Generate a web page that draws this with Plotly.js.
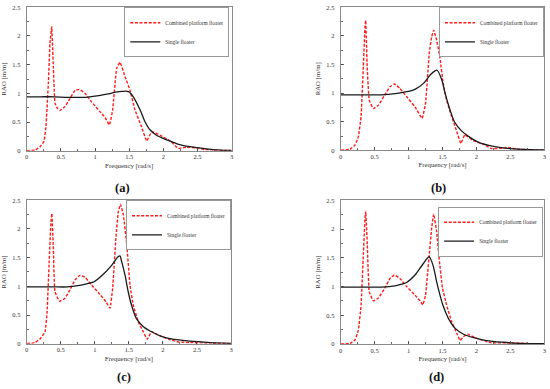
<!DOCTYPE html>
<html>
<head>
<meta charset="utf-8">
<script src="https://cdn.plot.ly/plotly-3.0.1.min.js"></script>
<style>html,body{margin:0;padding:0;background:#fff;}#chart{width:550px;height:389px;}</style>
</head>
<body>
<div id="chart"></div>
<script>
// ---- Data ----
var seriesNames = ["Combined platform floater", "Single floater"];
var panelLabels = ["(a)", "(b)", "(c)", "(d)"];
var xTitle = "Frequency [rad/s]";
var yTitle = "RAO [m/m]";

var freqA_comb = [0,0.12,0.195,0.253,0.282,0.317,0.341,0.366,0.39,0.414,0.448,0.487,0.56,0.634,0.707,0.77,0.853,0.95,1.073,1.146,1.21,1.258,1.317,1.365,1.44,1.51,1.585,1.68,1.756,1.83,1.95,2.1,2.22,2.34,2.49,2.6,2.8,3.0];
var raoA_comb  = [0,0.01,0.07,0.16,0.42,1.17,1.87,2.16,1.47,0.83,0.74,0.70,0.77,0.91,1.05,1.07,1.0,0.85,0.68,0.58,0.45,0.71,1.44,1.54,1.29,1.06,0.71,0.42,0.17,0.33,0.27,0.17,0.04,0.06,0.05,0.02,0.01,0];
var freqA_single = [0,0.2,0.4,0.6,0.8,0.9,1.0,1.1,1.2,1.3,1.4,1.49,1.56,1.66,1.73,1.8,1.9,2.05,2.2,2.39,2.58,2.83,3.0];
var raoA_single  = [0.94,0.94,0.94,0.93,0.93,0.935,0.95,0.97,0.99,1.02,1.035,1.03,0.94,0.71,0.51,0.37,0.27,0.19,0.12,0.07,0.04,0.01,0.005];

var freqB_comb = [0,0.137,0.21,0.26,0.30,0.333,0.358,0.368,0.39,0.42,0.48,0.555,0.65,0.726,0.79,0.874,0.97,1.095,1.2,1.25,1.305,1.34,1.37,1.414,1.463,1.51,1.56,1.635,1.71,1.77,1.83,1.95,2.1,2.22,2.4,2.47,2.6,2.8,3.0];
var raoB_comb  = [0,0.02,0.09,0.24,0.59,1.46,2.16,2.27,1.46,0.88,0.73,0.79,0.97,1.11,1.16,1.08,0.94,0.76,0.56,0.82,1.70,1.98,2.10,1.93,1.61,1.17,0.88,0.59,0.33,0.12,0.27,0.17,0.11,0.03,0.04,0.05,0.02,0.01,0];
var freqB_single = [0,0.2,0.4,0.6,0.8,0.9,1.0,1.1,1.22,1.32,1.39,1.42,1.49,1.54,1.61,1.68,1.78,1.9,2.05,2.25,2.5,2.8,3.0];
var raoB_single  = [0.97,0.97,0.97,0.97,0.99,1.01,1.03,1.07,1.17,1.32,1.39,1.40,1.23,0.99,0.71,0.49,0.34,0.23,0.13,0.07,0.03,0.01,0.005];

var freqC_comb = [0,0.12,0.195,0.27,0.30,0.33,0.357,0.37,0.39,0.415,0.48,0.56,0.636,0.71,0.78,0.856,0.954,1.076,1.165,1.223,1.263,1.31,1.345,1.378,1.42,1.47,1.517,1.565,1.64,1.71,1.77,1.835,1.93,2.08,2.23,2.4,2.7,3.0];
var raoC_comb  = [0,0.02,0.08,0.21,0.56,1.43,2.13,2.27,1.72,0.91,0.74,0.79,0.94,1.11,1.19,1.16,1.02,0.86,0.73,0.62,0.97,1.84,2.30,2.43,2.24,1.72,1.02,0.67,0.38,0.21,0.08,0.21,0.15,0.08,0.03,0.02,0.01,0];
var freqC_single = [0,0.2,0.4,0.6,0.8,0.9,0.99,1.125,1.25,1.345,1.37,1.395,1.443,1.49,1.54,1.61,1.71,1.86,2.0,2.2,2.45,2.7,3.0];
var raoC_single  = [0.99,0.99,0.99,0.99,1.02,1.05,1.08,1.21,1.37,1.52,1.53,1.43,1.20,0.91,0.67,0.44,0.30,0.19,0.12,0.07,0.04,0.02,0.005];

var freqD_comb = [0,0.137,0.21,0.26,0.30,0.333,0.358,0.368,0.392,0.42,0.48,0.555,0.65,0.726,0.79,0.874,0.97,1.095,1.17,1.21,1.25,1.30,1.34,1.37,1.414,1.45,1.50,1.56,1.635,1.71,1.76,1.81,1.87,1.98,2.13,2.22,2.45,2.7,3.0];
var raoD_comb  = [0,0.01,0.07,0.24,0.68,1.55,2.19,2.31,1.72,0.91,0.75,0.80,0.97,1.14,1.20,1.14,1.0,0.85,0.75,0.68,0.85,1.49,2.01,2.26,1.95,1.49,0.97,0.68,0.39,0.19,0.06,0.13,0.17,0.11,0.05,0.02,0.02,0.01,0];
var freqD_single = [0,0.2,0.4,0.6,0.8,0.9,0.97,1.095,1.2,1.30,1.316,1.365,1.414,1.463,1.51,1.585,1.68,1.81,1.96,2.15,2.4,2.65,3.0];
var raoD_single  = [0.99,0.99,0.99,0.99,1.01,1.04,1.07,1.20,1.37,1.52,1.50,1.35,1.08,0.85,0.66,0.45,0.28,0.17,0.11,0.06,0.03,0.01,0.005];

var xTickVals = [0,0.5,1,1.5,2,2.5,3];
var xTickText = ["0","0.5","1","1.5","2","2.5","3"];
var yTickVals = [0,0.5,1,1.5,2,2.5];
var yTickText = ["0","0.5","1","1.5","2","2.5"];

// ---- Build ----
var FONT = "Liberation Serif, Times New Roman, serif";
var panels = [
  {comb:[freqA_comb, raoA_comb], single:[freqA_single, raoA_single]},
  {comb:[freqB_comb, raoB_comb], single:[freqB_single, raoB_single]},
  {comb:[freqC_comb, raoC_comb], single:[freqC_single, raoC_single]},
  {comb:[freqD_comb, raoD_comb], single:[freqD_single, raoD_single]}
];
var xDomains = [[0.0485,0.4213],[0.6195,0.9896],[0.0485,0.42],[0.6195,0.9896]];
var yDomains = [[0.6126,0.9812],[0.6136,0.9812],[0.1165,0.4851],[0.1157,0.4851]];
var legendPos = [
  {x:0.4169, y:0.9812},
  {x:0.989, y:0.9812},
  {x:0.42, y:0.4851},
  {x:0.9875, y:0.4686}
];
var labelPos = [[0.2236,0.5167],[0.7964,0.5167],[0.2255,0.0308],[0.7945,0.0308]];

var traces = [];
var layout = {
  width:550, height:389,
  margin:{l:0,r:0,t:0,b:0},
  paper_bgcolor:"#fff", plot_bgcolor:"#fff",
  font:{family:FONT, color:"#222"},
  annotations:[]
};

panels.forEach(function(p, i){
  var n = i===0 ? "" : String(i+1);
  var lg = i===0 ? "legend" : "legend"+(i+1);
  traces.push({
    x:p.comb[0], y:p.comb[1], type:"scatter", mode:"lines",
    name:seriesNames[0], xaxis:"x"+n, yaxis:"y"+n, legend:lg,
    line:{color:"#ff1a1a", width:1.4, dash:"3px,1.6px", shape:"spline", smoothing:0.3},
    hoverinfo:"skip"
  });
  traces.push({
    x:p.single[0], y:p.single[1], type:"scatter", mode:"lines",
    name:seriesNames[1], xaxis:"x"+n, yaxis:"y"+n, legend:lg,
    line:{color:"#1a1a1a", width:1.3, shape:"spline", smoothing:0.8},
    hoverinfo:"skip"
  });
  var axCommon = {
    showgrid:false, zeroline:false, showline:true, mirror:true,
    linecolor:"#8a8a8a", linewidth:1,
    ticks:"inside", ticklen:3, tickcolor:"#444", tickwidth:0.8,
    tickfont:{family:FONT, size:6.5, color:"#333"}
  };
  layout["xaxis"+n] = Object.assign({}, axCommon, {
    domain:xDomains[i], anchor:"y"+n, range:[0,3],
    tickmode:"array", tickvals:xTickVals, ticktext:xTickText,
    minor:{dtick:0.25, tick0:0, ticks:"inside", ticklen:2, tickcolor:"#444", tickwidth:0.8},
    title:{text:xTitle, font:{family:FONT, size:6.8, color:"#333"}, standoff:3}
  });
  layout["yaxis"+n] = Object.assign({}, axCommon, {
    domain:yDomains[i], anchor:"x"+n, range:[0,2.5],
    tickmode:"array", tickvals:yTickVals, ticktext:yTickText,
    ticklabelstandoff:4,
    minor:{dtick:0.25, tick0:0, ticks:"inside", ticklen:2, tickcolor:"#444", tickwidth:0.8},
    title:{text:yTitle, font:{family:FONT, size:6.8, color:"#333"}, standoff:4}
  });
  layout[lg] = {
    x:legendPos[i].x, y:legendPos[i].y, xanchor:"right", yanchor:"top",
    xref:"paper", yref:"paper",
    bgcolor:"#fff", bordercolor:"#999", borderwidth:1,
    font:{family:FONT, size:5.4, color:"#333"},
    itemwidth:30, tracegroupgap:0
  };
  layout.annotations.push({
    text:"<b>"+panelLabels[i]+"</b>", xref:"paper", yref:"paper",
    x:labelPos[i][0], y:labelPos[i][1], xanchor:"center", yanchor:"middle",
    showarrow:false, font:{family:FONT, size:12.5, color:"#111"}
  });
});

Plotly.newPlot("chart", traces, layout, {staticPlot:true, displayModeBar:false});
</script>
</body>
</html>
